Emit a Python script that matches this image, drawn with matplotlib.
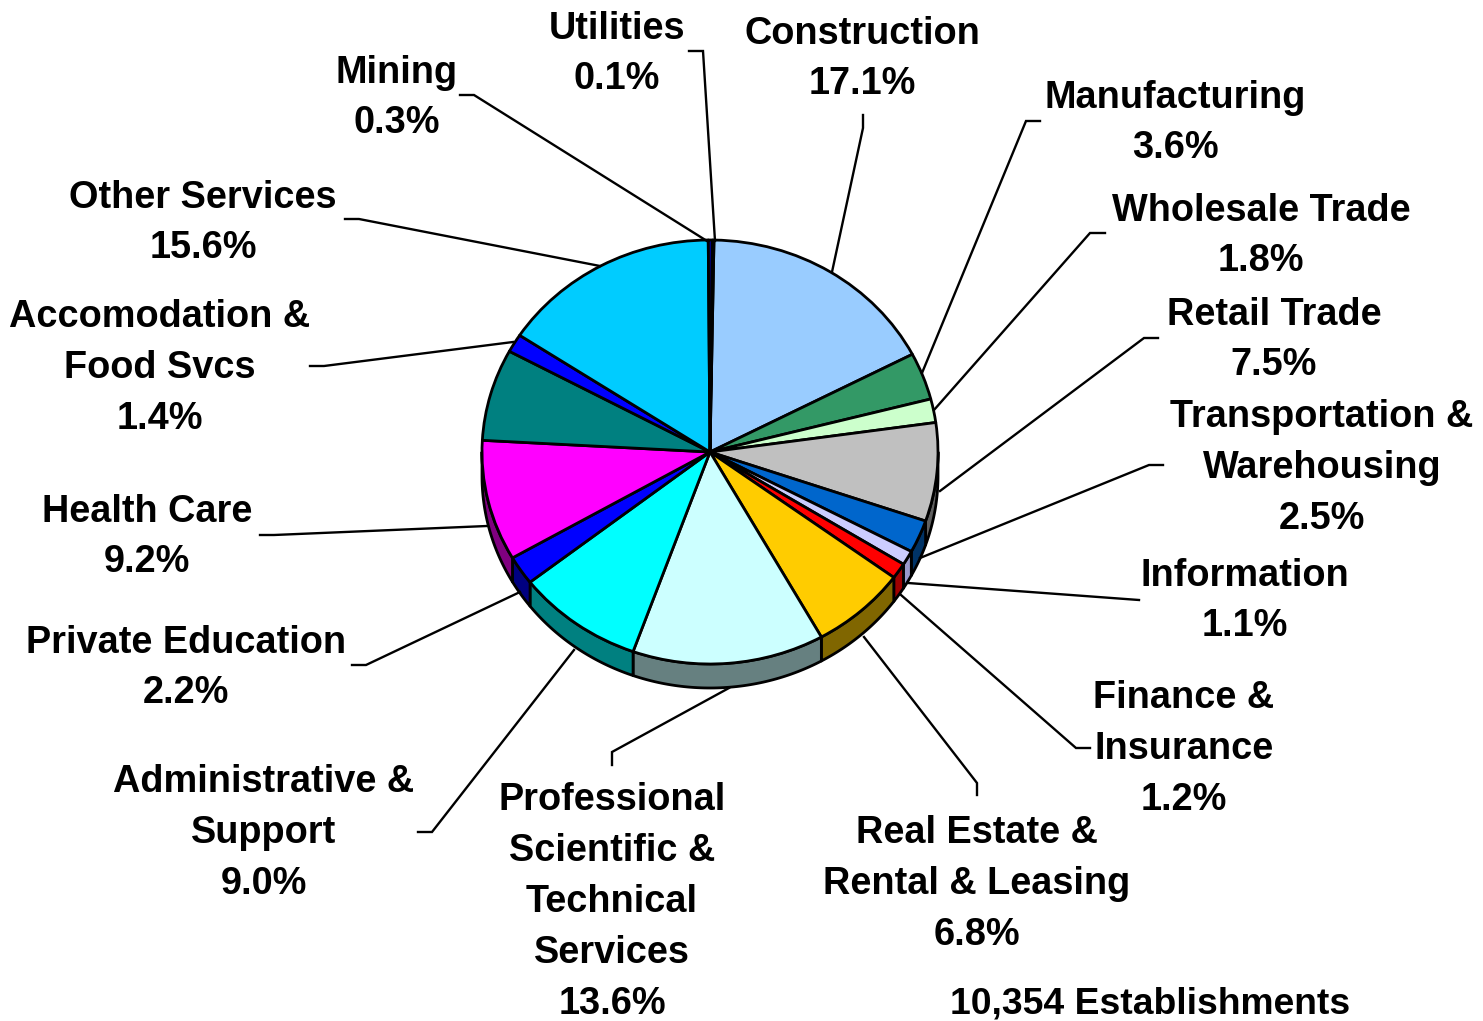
import numpy as np
import matplotlib
matplotlib.use("Agg")
import matplotlib.pyplot as plt

plt.rcParams['font.family'] = ['Liberation Sans', 'DejaVu Sans']

# ---- data ----
sectors = ["Construction", "Manufacturing", "Wholesale Trade", "Retail Trade",
           "Transportation &\nWarehousing", "Information", "Finance &\nInsurance",
           "Real Estate &\nRental & Leasing", "Professional\nScientific &\nTechnical\nServices",
           "Administrative &\nSupport", "Private Education", "Health Care", "",
           "Accomodation &\nFood Svcs", "Other Services", "Mining", "Utilities"]
shares = [17.1, 3.6, 1.8, 7.5, 2.5, 1.1, 1.2, 6.8, 13.6, 9.0, 2.2, 9.2, 7.0, 1.4, 15.6, 0.3, 0.1]
top_colors = ["#99CCFF", "#339966", "#CCFFCC", "#C0C0C0", "#0066CC", "#CCCCFF", "#FF0000",
              "#FFCC00", "#CCFFFF", "#00FFFF", "#0000FF", "#FF00FF", "#008080", "#0000FF",
              "#00CCFF", "#000080", "#000000"]
side_colors = ["#4D6680", "#1A4D33", "#668066", "#606060", "#003366", "#9999CC", "#A00000",
               "#806600", "#668080", "#008080", "#000080", "#800080", "#004040", "#000080",
               "#006680", "#000040", "#000000"]
footer = "10,354 Establishments"

# ---- layout (pixels) ----
W, H = 1483, 1021
CX, CY, RX, RY, DEPTH = 710, 452, 228, 212, 24
ROTATION = 1.0   # degrees clockwise from 12 o'clock
label_xy = [(862, 59), (1175, 123), (1261, 236), (1274, 340), (1322, 468), (1245, 601),
            (1184, 749), (977, 884), (612, 902), (264, 833), (186, 668), (147, 537), None,
            (160, 368), (203, 223), (397, 98), (617, 54)]
leaders = [[(863, 115), (863, 128), (832, 272)],
           [(1040, 121), (1026, 121), (922, 373)],
           [(1105, 233), (1090, 233), (934, 410)],
           [(1158, 338), (1144, 338), (940, 491)],
           [(1163, 465), (1149, 465), (920, 558)],
           [(1139, 600), (908, 583)],
           [(1090, 748), (1076, 748), (901, 595)],
           [(977, 795), (977, 783), (864, 637)],
           [(612, 765), (612, 752), (729, 688)],
           [(418, 832), (432, 832), (574, 650)],
           [(352, 665), (366, 665), (520, 592)],
           [(260, 535), (274, 535), (487, 526)],
           None,
           [(310, 366), (324, 366), (513, 342)],
           [(345, 219), (359, 219), (600, 266)],
           [(460, 95), (474, 95), (707, 241)],
           [(689, 51), (703, 51), (715, 241)]]

fig = plt.figure(figsize=(W / 100, H / 100), dpi=100, facecolor="white")

# pie axes: unit circle maps to the ellipse on screen
ax = fig.add_axes([0, 0, 1, 1])
dy = DEPTH / RY

# side wall of the pie, front half only
edges = np.cumsum([0] + shares) / sum(shares) * 360.0 + ROTATION
for a0, a1, c in zip(edges[:-1], edges[1:], side_colors):
    lo, hi = max(a0, 90), min(a1, 270)
    if hi <= lo:
        continue
    th = np.radians(np.linspace(lo, hi, 60))
    x, y = np.sin(th), np.cos(th)
    ax.fill(np.r_[x, x[::-1]], np.r_[y, y[::-1] - dy], facecolor=c,
            edgecolor="black", linewidth=2.0, joinstyle="round", zorder=1)

wedges, _ = ax.pie(shares, colors=top_colors, startangle=90 - ROTATION, counterclock=False, radius=1,
                   wedgeprops=dict(edgecolor="black", linewidth=2.0, joinstyle="round"))
for w in wedges:
    w.set_zorder(2)
ax.set_aspect("auto")
ax.set_xlim(-CX / RX, (W - CX) / RX)
ax.set_ylim((CY - H) / RY, CY / RY)
ax.axis("off")

# annotation layer in pixel coordinates
ov = fig.add_axes([0, 0, 1, 1], facecolor="none")
ov.set_xlim(0, W)
ov.set_ylim(H, 0)
ov.axis("off")

for name, share, xy, path in zip(sectors, shares, label_xy, leaders):
    if xy is None:
        continue
    ov.text(xy[0], xy[1], f"{name}\n{share:.1f}%", ha="center", va="center", multialignment="center",
            fontsize=27.3, fontweight="bold", color="black", linespacing=1.535)
    px, py = zip(*path)
    ov.plot(px, py, color="black", linewidth=1.7, solid_joinstyle="miter")

ov.text(950, 1013, footer, ha="left", va="baseline", fontsize=26.8, fontweight="bold", color="black")

fig.savefig("out.png", dpi=100)
